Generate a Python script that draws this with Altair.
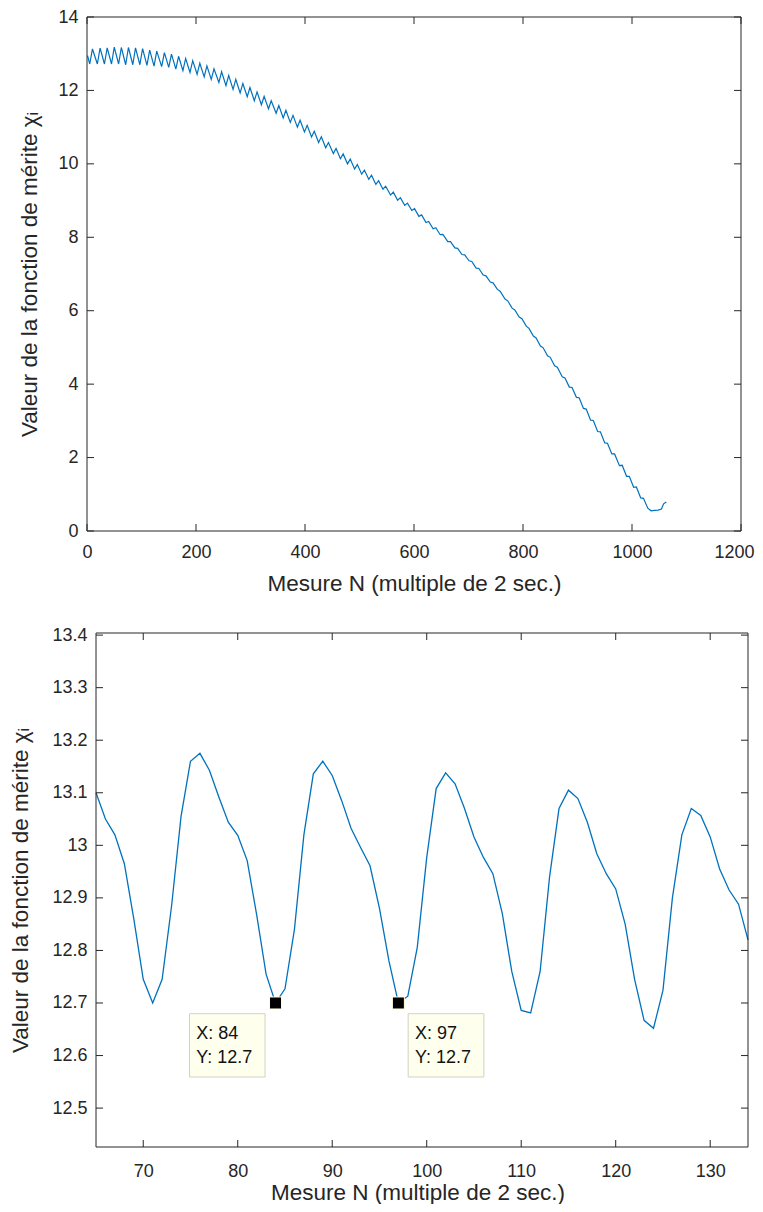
import altair as alt
import pandas as pd

# ---------------- data ----------------
# top panel: start point, troughs, peaks and tail of the oscillating curve
top_start_x = [1]
top_start_y = [12.95]

top_trough_x = [5, 19, 32, 45, 58, 71, 84, 97, 110, 123,
                137, 150, 163, 176, 189, 202, 215, 228, 242, 255,
                268, 281, 294, 307, 320, 333, 347, 360, 373, 386,
                399, 412, 425, 438, 452, 465, 478, 491, 504, 517,
                530, 543, 557, 570, 583, 596, 609, 622, 635, 648,
                662, 675, 688, 701, 714, 727, 740, 753, 767, 780,
                793, 806, 819, 832, 845, 858, 872, 885, 898, 911,
                924, 937, 950, 963, 977, 990, 1003, 1016]
top_trough_y = [12.72, 12.72, 12.72, 12.72, 12.72, 12.70, 12.70, 12.70, 12.68, 12.66,
                12.65, 12.63, 12.58, 12.54, 12.49, 12.44, 12.37, 12.30, 12.22, 12.13,
                12.03, 11.93, 11.83, 11.72, 11.61, 11.50, 11.38, 11.25, 11.13, 11.00,
                10.87, 10.73, 10.58, 10.44, 10.28, 10.14, 10.00, 9.86, 9.72, 9.58,
                9.44, 9.31, 9.15, 9.01, 8.87, 8.73, 8.57, 8.40, 8.23, 8.07,
                7.88, 7.71, 7.53, 7.36, 7.16, 6.97, 6.78, 6.58, 6.32, 6.07,
                5.83, 5.58, 5.31, 5.04, 4.77, 4.50, 4.20, 3.92, 3.64, 3.34,
                3.02, 2.71, 2.40, 2.10, 1.78, 1.49, 1.19, 0.90]

top_peak_x = [10, 24, 37, 50, 63, 76, 89, 102, 115, 128,
              142, 155, 168, 181, 194, 207, 220, 233, 247, 260,
              273, 286, 299, 312, 325, 338, 352, 365, 378, 391,
              404, 417, 430, 443, 457, 470, 483, 496, 509, 522,
              535, 548, 562, 575, 588, 601, 614, 627, 640, 653,
              667, 680, 693, 706, 719, 732, 745, 758, 772, 785,
              798, 811, 824, 837, 850, 863, 877, 890, 903, 916,
              929, 942, 955, 968, 982, 995, 1008, 1021]
top_peak_y = [13.13, 13.15, 13.16, 13.18, 13.17, 13.17, 13.16, 13.14, 13.10, 13.07,
              13.03, 12.99, 12.93, 12.87, 12.81, 12.74, 12.67, 12.59, 12.51, 12.41,
              12.30, 12.19, 12.08, 11.96, 11.84, 11.72, 11.59, 11.46, 11.32, 11.19,
              11.05, 10.89, 10.74, 10.58, 10.42, 10.27, 10.13, 9.98, 9.83, 9.69,
              9.54, 9.39, 9.23, 9.08, 8.93, 8.78, 8.61, 8.43, 8.26, 8.08,
              7.88, 7.70, 7.52, 7.34, 7.15, 6.95, 6.76, 6.53, 6.27, 6.02,
              5.78, 5.52, 5.26, 4.99, 4.73, 4.46, 4.17, 3.91, 3.63, 3.32,
              3.01, 2.70, 2.39, 2.10, 1.79, 1.49, 1.20, 0.89]

top_tail_x = [1029, 1035, 1042, 1048, 1054, 1058, 1063]
top_tail_y = [0.62, 0.55, 0.56, 0.57, 0.60, 0.74, 0.79]

# bottom (zoomed) panel: one value per measurement N = 65 ... 134
zoom_x = [65, 66, 67, 68, 69, 70, 71, 72, 73, 74,
          75, 76, 77, 78, 79, 80, 81, 82, 83, 84,
          85, 86, 87, 88, 89, 90, 91, 92, 93, 94,
          95, 96, 97, 98, 99, 100, 101, 102, 103, 104,
          105, 106, 107, 108, 109, 110, 111, 112, 113, 114,
          115, 116, 117, 118, 119, 120, 121, 122, 123, 124,
          125, 126, 127, 128, 129, 130, 131, 132, 133, 134]
zoom_y = [13.100, 13.050, 13.020, 12.965, 12.860, 12.745, 12.700, 12.745, 12.885, 13.055,
          13.160, 13.175, 13.143, 13.092, 13.044, 13.019, 12.971, 12.868, 12.755, 12.700,
          12.727, 12.840, 13.020, 13.136, 13.160, 13.133, 13.085, 13.032, 12.996, 12.961,
          12.880, 12.780, 12.700, 12.713, 12.806, 12.977, 13.108, 13.138, 13.117, 13.070,
          13.016, 12.977, 12.946, 12.870, 12.760, 12.686, 12.681, 12.760, 12.940, 13.070,
          13.105, 13.089, 13.044, 12.984, 12.946, 12.917, 12.850, 12.745, 12.667, 12.652,
          12.724, 12.900, 13.020, 13.070, 13.057, 13.016, 12.955, 12.915, 12.888, 12.820]

# data tips
tip_x = [84, 97]
tip_y = [12.7, 12.7]

# axes
top_xlim = [0, 1200]
top_ylim = [0, 14]
top_xticks = [0, 200, 400, 600, 800, 1000, 1200]
top_yticks = [0, 2, 4, 6, 8, 10, 12, 14]
bot_xlim = [65, 134]
bot_ylim = [12.426, 13.404]
bot_xticks = [70, 80, 90, 100, 110, 120, 130]
bot_yticks = [12.5, 12.6, 12.7, 12.8, 12.9, 13.0, 13.1, 13.2, 13.3, 13.4]

XTITLE = "Mesure N (multiple de 2 sec.)"
YTITLE = "Valeur de la fonction de mérite χᵢ"

# ---------------- styling ----------------
BLUE = "#0072BD"
AX = "#262626"
FONT = "Liberation Sans"
TICK = 7
W1, H1 = 654, 514
W2, H2 = 652, 514
SHIFT = 9  # bottom panel sits this many px to the right of the top one

# ---------------- build tables ----------------
pts = (list(zip(top_start_x, top_start_y)) + list(zip(top_trough_x, top_trough_y))
       + list(zip(top_peak_x, top_peak_y)) + list(zip(top_tail_x, top_tail_y)))
pts.sort(key=lambda p: p[0])
df_top = pd.DataFrame(pts, columns=["x", "y"])
df_bot = pd.DataFrame({"x": zoom_x, "y": zoom_y})
df_tip = pd.DataFrame({"x": tip_x, "y": tip_y})


def frame_and_ticks(xlim, ylim, xticks, yticks, xs, ys):
    bx = pd.DataFrame({"x": xticks, "y": ylim[0], "y2": ylim[1]})
    by = pd.DataFrame({"y": yticks, "x": xlim[0], "x2": xlim[1]})
    rule = dict(color=AX, strokeWidth=1)
    t_bottom = alt.Chart(bx).mark_rule(y2Offset=-TICK, **rule).encode(
        x=alt.X("x:Q", scale=xs), y=alt.Y("y:Q", scale=ys), y2="y:Q")
    t_top = alt.Chart(bx).mark_rule(y2Offset=TICK, **rule).encode(
        x=alt.X("x:Q", scale=xs), y=alt.Y("y2:Q", scale=ys), y2="y2:Q")
    t_left = alt.Chart(by).mark_rule(x2Offset=TICK, **rule).encode(
        y=alt.Y("y:Q", scale=ys), x=alt.X("x:Q", scale=xs), x2="x:Q")
    t_right = alt.Chart(by).mark_rule(x2Offset=-TICK, **rule).encode(
        y=alt.Y("y:Q", scale=ys), x=alt.X("x2:Q", scale=xs), x2="x2:Q")
    fr = pd.DataFrame({"x": [xlim[0]], "x2": [xlim[1]], "y": [ylim[0]], "y2": [ylim[1]]})
    frame = alt.Chart(fr).mark_rect(fill="transparent", stroke=AX, strokeWidth=1).encode(
        x=alt.X("x:Q", scale=xs), x2="x2:Q",
        y=alt.Y("y:Q", scale=ys), y2="y2:Q")
    return [t_bottom, t_top, t_left, t_right, frame]


# ---------------- top panel ----------------
last_tick = "datum.value == %d" % top_xticks[-1]
xs1 = alt.Scale(domain=top_xlim, nice=False, zero=False)
ys1 = alt.Scale(domain=top_ylim, nice=False, zero=False)
line1 = alt.Chart(df_top).mark_line(color=BLUE, strokeWidth=1.2).encode(
    x=alt.X("x:Q", scale=xs1, title=XTITLE,
            axis=alt.Axis(values=top_xticks, format="d", labelFlush=False,
                          labelPadding=12, titlePadding=11,
                          labelAlign={"condition": {"test": last_tick, "value": "right"},
                                      "value": "center"},
                          labelOffset={"condition": {"test": last_tick, "value": 13},
                                       "value": 0})),
    y=alt.Y("y:Q", scale=ys1, title=YTITLE,
            axis=alt.Axis(values=top_yticks, format="d", titlePadding=16)),
)
top = alt.layer(line1, *frame_and_ticks(top_xlim, top_ylim, top_xticks, top_yticks, xs1, ys1)
                ).properties(width=W1, height=H1)

# ---------------- bottom panel ----------------
ext = SHIFT * (bot_xlim[1] - bot_xlim[0]) / W2
xs2 = alt.Scale(domain=[bot_xlim[0] - ext, bot_xlim[1]], nice=False, zero=False)
ys2 = alt.Scale(domain=bot_ylim, nice=False, zero=False)
line2 = alt.Chart(df_bot).mark_line(color=BLUE, strokeWidth=1.3).encode(
    x=alt.X("x:Q", scale=xs2, title=XTITLE,
            axis=alt.Axis(values=bot_xticks, format="d", labelFlush=False,
                          labelPadding=15, titlePadding=1)),
    y=alt.Y("y:Q", scale=ys2, title=YTITLE,
            axis=alt.Axis(values=bot_yticks, format="~g", titlePadding=19, offset=-SHIFT)),
)

tipbase = alt.Chart(df_tip).transform_calculate(
    lx="'X: ' + datum.x", ly="'Y: ' + datum.y")
enc = dict(x=alt.X("x:Q", scale=xs2), y=alt.Y("y:Q", scale=ys2))
box_style = dict(fill="#FFFFEE", stroke="#D2D2C4", strokeWidth=1)
txt_style = dict(align="left", baseline="middle", fontSize=18, font=FONT, color="#111111")

left_tip = tipbase.transform_filter(alt.datum.x == tip_x[0])
right_tip = tipbase.transform_filter(alt.datum.x == tip_x[1])
box1 = left_tip.mark_rect(xOffset=-86, x2Offset=-10.5, yOffset=10.7, y2Offset=74, **box_style).encode(
    x2="x:Q", y2="y:Q", **enc)
box2 = right_tip.mark_rect(xOffset=9.8, x2Offset=85.5, yOffset=10.7, y2Offset=74, **box_style).encode(
    x2="x:Q", y2="y:Q", **enc)
t1a = left_tip.mark_text(dx=-79.4, dy=31, **txt_style).encode(text="lx:N", **enc)
t1b = left_tip.mark_text(dx=-79.4, dy=55, **txt_style).encode(text="ly:N", **enc)
t2a = right_tip.mark_text(dx=16.5, dy=31, **txt_style).encode(text="lx:N", **enc)
t2b = right_tip.mark_text(dx=16.5, dy=55, **txt_style).encode(text="ly:N", **enc)
marks = tipbase.mark_square(size=144, fill="black", stroke="#FFFFDD", strokeWidth=1,
                            opacity=1, filled=True).encode(**enc)

bottom = alt.layer(line2, *frame_and_ticks(bot_xlim, bot_ylim, bot_xticks, bot_yticks, xs2, ys2),
                   box1, box2, t1a, t1b, t2a, t2b, marks).properties(width=W2 + SHIFT, height=H2)

chart = alt.vconcat(top, bottom, spacing=30).properties(
    padding={"left": 1, "top": -1, "right": 0, "bottom": 0}
).configure(font=FONT).configure_view(stroke="transparent").configure_axis(
    domain=False, ticks=False, tickSize=0, grid=False,
    labelFont=FONT, labelFontSize=18, labelColor=AX, labelPadding=9,
    titleFont=FONT, titleFontSize=22.5, titleFontWeight="normal", titleColor=AX,
)

chart.save("out.html", embed_options={"renderer": "svg", "actions": False})
